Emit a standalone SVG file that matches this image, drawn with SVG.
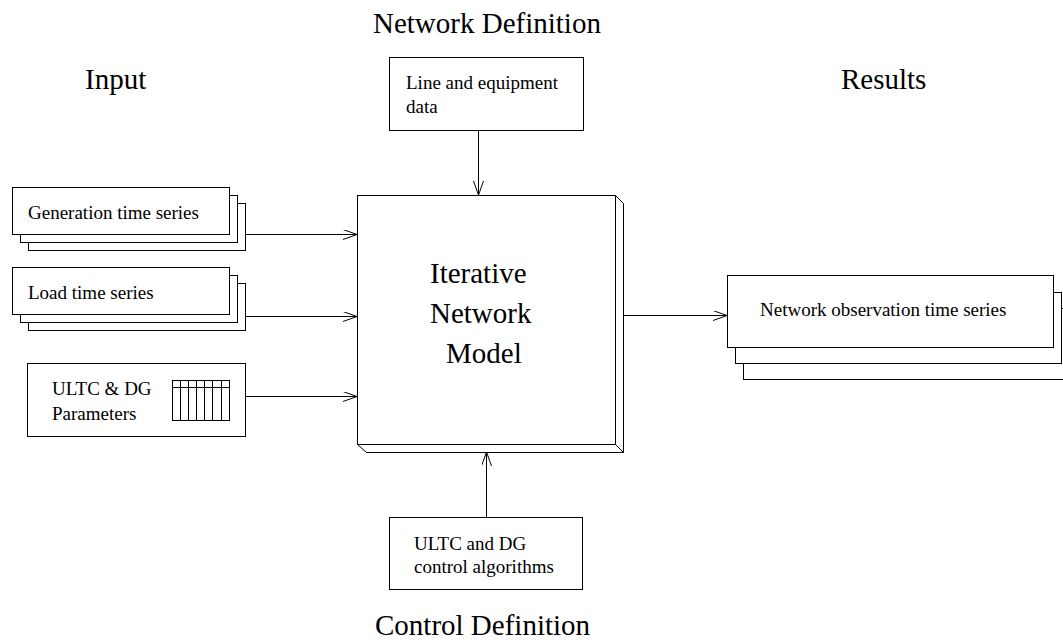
<svg xmlns="http://www.w3.org/2000/svg" width="1063" height="642" viewBox="0 0 1063 642">
<style>
.box{fill:#fff;stroke:#000;stroke-width:1}
.ln{fill:none;stroke:#000;stroke-width:1}
.t{font-family:"Liberation Serif","Times New Roman",serif;fill:#000}
.s{font-size:19px}
.b{font-size:29px}
</style>
<defs>
<marker id="arr" markerUnits="userSpaceOnUse" markerWidth="16" markerHeight="12" refX="14" refY="5" orient="auto">
<path d="M0,0 L14,5 L0,10" fill="none" stroke="#000" stroke-width="1"/>
</marker>
</defs>
<rect width="1063" height="642" fill="#fff"/>
<g id="titles">
<text class="t b" x="373" y="33">Network Definition</text>
<text class="t b" x="85" y="89">Input</text>
<text class="t b" x="841" y="89">Results</text>
<text class="t b" x="375" y="635">Control Definition</text>
</g>
<g id="gen">
<rect class="box" x="28.5" y="203.5" width="217" height="47"/>
<rect class="box" x="20.5" y="195.5" width="217" height="47"/>
<rect class="box" x="12.5" y="187.5" width="217" height="47"/>
<text class="t s" x="28" y="219">Generation time series</text>
</g>
<g id="load">
<rect class="box" x="28.5" y="283.5" width="217" height="47"/>
<rect class="box" x="20.5" y="275.5" width="217" height="47"/>
<rect class="box" x="12.5" y="267.5" width="217" height="47"/>
<text class="t s" x="28" y="299">Load time series</text>
</g>
<g id="params">
<rect class="box" x="27.5" y="363.5" width="218" height="73"/>
<text class="t s" x="52" y="395">ULTC &amp; DG</text>
<text class="t s" x="52" y="420">Parameters</text>
<rect class="box" x="172.5" y="380.5" width="57" height="40"/>
<path class="ln" d="M172.5,387.5H229.5M180.5,380.5V420.5M188.5,380.5V420.5M196.5,380.5V420.5M204.5,380.5V420.5M212.5,380.5V420.5M221.5,380.5V420.5"/>
</g>
<g id="linedata">
<rect class="box" x="389.5" y="57.5" width="194" height="73"/>
<text class="t s" x="406" y="89">Line and equipment</text>
<text class="t s" x="406" y="113">data</text>
</g>
<g id="model">
<path class="box" d="M615.5,195.5L623.5,203.5V452.5H366.5L357.5,444.5H615.5Z"/>
<path class="ln" d="M615.5,444.5L623.5,452.5"/>
<rect class="box" x="357.5" y="195.5" width="258" height="249"/>
<text class="t b" x="430" y="283">Iterative</text>
<text class="t b" x="430" y="323">Network</text>
<text class="t b" x="446" y="363">Model</text>
</g>
<g id="control">
<rect class="box" x="389.5" y="517.5" width="193" height="72"/>
<text class="t s" x="414" y="550">ULTC and DG</text>
<text class="t s" x="414" y="573">control algorithms</text>
</g>
<g id="results">
<rect class="box" x="743.5" y="308.5" width="326" height="71"/>
<rect class="box" x="735.5" y="292.5" width="326" height="71"/>
<rect class="box" x="727.5" y="275.5" width="326" height="72"/>
<text class="t s" x="760" y="316">Network observation time series</text>
</g>
<g id="connectors">
<path class="ln" d="M245,234.5H357" marker-end="url(#arr)"/>
<path class="ln" d="M245,316.5H357" marker-end="url(#arr)"/>
<path class="ln" d="M245,396.5H357" marker-end="url(#arr)"/>
<path class="ln" d="M478.5,130V195" marker-end="url(#arr)"/>
<path class="ln" d="M486.5,517V452" marker-end="url(#arr)"/>
<path class="ln" d="M623,315.5H727" marker-end="url(#arr)"/>
</g>
</svg>
